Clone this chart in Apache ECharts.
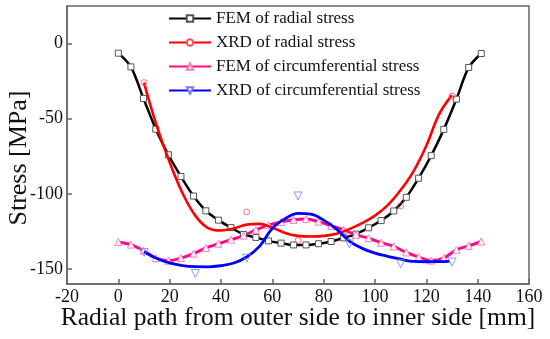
<!DOCTYPE html>
<html>
<head>
<meta charset="utf-8">
<script src="https://cdn.jsdelivr.net/npm/echarts@6/dist/echarts.min.js"></script>
<style>html,body{margin:0;padding:0;background:#fff;}#c{width:550px;height:339px;}</style>
</head>
<body>
<div id="c"></div>
<script>
// ---- data ----
const femX = [0, 4.9, 9.8, 14.6, 19.5, 24.4, 29.3, 34.1, 39.0, 43.9, 48.8, 53.6, 58.5, 63.4, 68.3, 73.1, 78.0, 82.9, 87.8, 92.6, 97.5, 102.4, 107.3, 112.2, 117.0, 121.9, 126.8, 131.7, 136.5, 141.4];
const femRadial = [-6.4, -15.5, -36.5, -57, -74, -88.5, -101.5, -111.3, -117.5, -122.5, -127, -129, -131.3, -132.8, -134, -134, -133.2, -131.7, -129.3, -126.8, -122.6, -117.8, -111.4, -102.3, -89.6, -74.6, -57.1, -37, -15.9, -6.6];
const femCircum = [-132, -133.8, -137.8, -142.8, -144.5, -142.8, -139.8, -136, -133.2, -130.5, -127.8, -124, -120.8, -118.8, -117.3, -116.8, -118.5, -121.3, -124, -127.3, -129.5, -132.5, -135, -139, -142.1, -144.4, -142.8, -137.2, -134.6, -131.7];

const xrdRadialFitX = [10, 15, 20, 25, 30, 35, 40, 45, 50, 55, 60, 65, 70, 75, 80, 85, 90, 95, 100, 105, 110, 115, 120, 125, 130];
const xrdRadialFitY = [-26, -55, -79, -99.5, -114.5, -122.8, -124.4, -123, -120.5, -120, -122.5, -126, -128, -128.4, -128, -126.6, -123.5, -119.5, -114.5, -107.5, -97.5, -85, -68, -47, -34.3];
const xrdRadialX = [10, 50, 70, 110, 130];
const xrdRadialY = [-26, -112, -131, -108, -35];

const xrdCircFitX = [10, 15, 20, 25, 30, 35, 40, 45, 50, 55, 60, 65, 70, 75, 80, 85, 90, 95, 100, 105, 110, 115, 120, 125, 129];
const xrdCircFitY = [-138.5, -143, -146, -147.8, -148.5, -148.6, -147.8, -146, -142, -135, -123, -116.5, -113, -113.5, -117.5, -123.5, -131.5, -136.3, -139.5, -141.6, -143.5, -145, -145.2, -145.1, -145];
const xrdCircX = [10, 30, 50, 70, 90, 110, 130];
const xrdCircY = [-139, -153, -142.8, -101.4, -133.3, -146.5, -145.4];

const xTicks = [-20, 0, 20, 40, 60, 80, 100, 120, 140, 160];
const yTicks = [-150, -100, -50, 0];

const names = ['FEM of radial stress', 'XRD of radial stress', 'FEM of circumferential stress', 'XRD of circumferential stress'];

function pairs(xs, ys) { return xs.map((x, i) => [x, ys[i]]); }

const FONT = 'Liberation Serif';
const chart = echarts.init(document.getElementById('c'), null, {renderer: 'canvas'});
chart.setOption({
  animation: false,
  backgroundColor: '#fff',
  grid: {left: 67, right: 21, top: 6, bottom: 55, containLabel: false, outerBoundsMode: 'none',
         show: true, borderColor: '#666', borderWidth: 1.5, backgroundColor: 'transparent'},
  legend: {
    data: names,
    orient: 'vertical',
    left: 163, top: 5,
    itemWidth: 42, itemHeight: 8, itemGap: 7,
    textStyle: {fontFamily: FONT, fontSize: 17, color: '#111', lineHeight: 17}
  },
  xAxis: {
    type: 'value', min: xTicks[0], max: xTicks[xTicks.length - 1], interval: 20,
    name: 'Radial path from outer side to inner side [mm]',
    nameLocation: 'middle', nameGap: 21, nameMoveOverlap: false,
    nameTextStyle: {fontFamily: FONT, fontSize: 25.5, color: '#111'},
    axisLine: {show: true, onZero: false, lineStyle: {color: '#666', width: 1.5}},
    axisTick: {show: true, inside: true, length: 5, lineStyle: {color: '#666', width: 1.5}},
    axisLabel: {fontFamily: FONT, fontSize: 18, color: '#111', margin: 4},
    splitLine: {show: false}
  },
  yAxis: {
    type: 'value', min: -160, max: 25,
    name: 'Stress [MPa]',
    nameLocation: 'middle', nameGap: 35, nameRotate: 90, nameMoveOverlap: false,
    nameTextStyle: {fontFamily: FONT, fontSize: 26, color: '#111', padding: [0, 26, 0, 0]},
    axisLine: {show: true, onZero: false, lineStyle: {color: '#666', width: 1.5}},
    axisTick: {show: true, inside: true, length: 5, customValues: yTicks, lineStyle: {color: '#666', width: 1.5}},
    axisLabel: {fontFamily: FONT, fontSize: 18, color: '#111', margin: 4, customValues: yTicks},
    splitLine: {show: false}
  },
  series: [
    {
      name: names[0], type: 'line', data: pairs(femX, femRadial), smooth: 0.3,
      symbol: 'rect', symbolSize: 6, showSymbol: true,
      lineStyle: {color: '#000', width: 2.5},
      itemStyle: {color: '#fff', borderColor: '#555', borderWidth: 1}, z: 2
    },
    {
      name: names[1], type: 'line', data: pairs(xrdRadialFitX, xrdRadialFitY), smooth: 0.4,
      symbol: 'circle', symbolSize: 6, showSymbol: false,
      lineStyle: {color: '#ff0000', width: 2.6},
      itemStyle: {color: '#fff', borderColor: '#ff5050', borderWidth: 1}, z: 3
    },
    {
      name: 'xrdRadialPts', type: 'scatter', data: pairs(xrdRadialX, xrdRadialY),
      symbol: 'circle', symbolSize: 6,
      itemStyle: {color: 'transparent', borderColor: '#ff5050', borderWidth: 1}, z: 5
    },
    {
      name: names[2], type: 'line', data: pairs(femX, femCircum), smooth: 0.3,
      symbol: 'triangle', symbolSize: 7, showSymbol: true,
      lineStyle: {color: '#ff0a84', width: 3},
      itemStyle: {color: '#fff', borderColor: '#ff7ac0', borderWidth: 1}, z: 2
    },
    {
      name: names[3], type: 'line', data: pairs(xrdCircFitX, xrdCircFitY), smooth: 0.4,
      symbol: 'triangle', symbolRotate: 180, symbolSize: 8, showSymbol: false,
      lineStyle: {color: '#0000ff', width: 2.8},
      itemStyle: {color: '#fff', borderColor: '#7a7aff', borderWidth: 1}, z: 4
    },
    {
      name: 'xrdCircPts', type: 'scatter', data: pairs(xrdCircX, xrdCircY),
      symbol: 'triangle', symbolRotate: 180, symbolSize: 8,
      itemStyle: {color: 'transparent', borderColor: '#7a7aff', borderWidth: 1}, z: 5
    }
  ]
});
</script>
</body>
</html>
